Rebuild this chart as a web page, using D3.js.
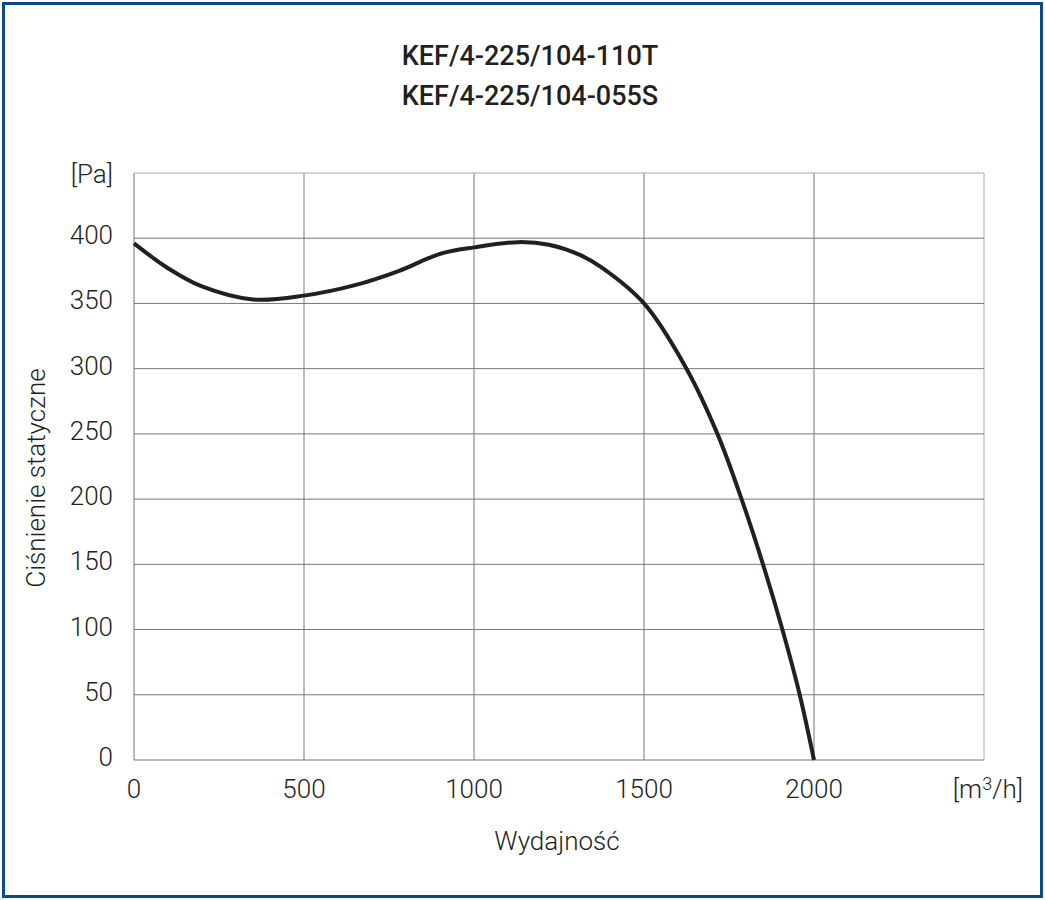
<!DOCTYPE html>
<html>
<head>
<meta charset="utf-8">
<script src="https://cdn.jsdelivr.net/npm/d3@7"></script>
<style>
  body { margin: 0; background: #fff; }
  text { font-family: Roboto, "Noto Sans", sans-serif; fill: #231f20; }
</style>
</head>
<body>
<div id="chart-area"></div>
<script>
// Fan curve
var flow = [0, 100, 200, 350, 500, 650, 780, 900, 1000, 1130, 1220, 1313, 1373, 1500, 1625, 1716, 1787, 1850, 1907, 1958, 2000];
var pressure = [396, 377, 363, 353, 356, 364, 375, 388, 393, 397, 395, 387, 378, 350, 300, 250, 200, 150, 100, 50, 0];

var xTicks = [0, 500, 1000, 1500, 2000];
var xGrid = [0, 500, 1000, 1500, 2000, 2500];
var yTicks = [0, 50, 100, 150, 200, 250, 300, 350, 400];
var yGrid = [0, 50, 100, 150, 200, 250, 300, 350, 400, 450];
var titles = ["KEF/4-225/104-110T", "KEF/4-225/104-055S"];

var W = 1045, H = 900;
var svg = d3.select("#chart-area")
    .append("svg")
        .attr("width", W)
        .attr("height", H);

// outer frame
svg.append("rect")
    .attr("x", 3.5)
    .attr("y", 3.5)
    .attr("width", W - 7)
    .attr("height", H - 7)
    .attr("fill", "none")
    .attr("stroke", "#0b4a86")
    .attr("stroke-width", 3);

// Scales
var x = d3.scaleLinear()
    .domain([0, 2500])
    .range([134, 984]);
var y = d3.scaleLinear()
    .domain([0, 450])
    .range([760, 173]);

// Grid
svg.append("g").selectAll("line")
    .data(xGrid)
    .enter().append("line")
        .attr("x1", function(d){ return x(d); })
        .attr("x2", function(d){ return x(d); })
        .attr("y1", y(0))
        .attr("y2", y(450))
        .attr("stroke", function(d){ return d == 2500 ? "#aaa" : "#777"; })
        .attr("stroke-width", 1);
svg.append("g").selectAll("line")
    .data(yGrid)
    .enter().append("line")
        .attr("x1", x(0))
        .attr("x2", x(2500))
        .attr("y1", function(d){ return y(d); })
        .attr("y2", function(d){ return y(d); })
        .attr("stroke", function(d){ return d == 450 ? "#aaa" : "#777"; })
        .attr("stroke-width", 1);

// Tick labels
svg.append("g").selectAll("text")
    .data(xTicks)
    .enter().append("text")
        .attr("x", function(d){ return x(d); })
        .attr("y", 798)
        .attr("text-anchor", "middle")
        .attr("font-size", "26px")
        .attr("font-weight", 300)
        .text(function(d){ return d; });
svg.append("g").selectAll("text")
    .data(yTicks)
    .enter().append("text")
        .attr("x", 113)
        .attr("y", function(d){ return y(d) + 6; })
        .attr("text-anchor", "end")
        .attr("font-size", "26px")
        .attr("font-weight", 300)
        .text(function(d){ return d; });

// Units
svg.append("text")
    .attr("x", 113)
    .attr("y", 183)
    .attr("text-anchor", "end")
    .attr("font-size", "26px")
    .attr("font-weight", 300)
    .text("[Pa]");
var unitX = svg.append("text")
    .attr("x", 1023)
    .attr("y", 798)
    .attr("text-anchor", "end")
    .attr("font-size", "26px")
    .attr("font-weight", 300);
unitX.append("tspan").text("[m");
unitX.append("tspan").attr("dy", -8).attr("font-size", "18px").text("3");
unitX.append("tspan").attr("dy", 8).text("/h]");

// Axis titles
svg.append("text")
    .attr("transform", "translate(45,478) rotate(-90)")
    .attr("text-anchor", "middle")
    .attr("font-size", "26px")
    .attr("font-weight", 300)
    .text("Ciśnienie statyczne");
svg.append("text")
    .attr("x", 557)
    .attr("y", 850)
    .attr("text-anchor", "middle")
    .attr("font-size", "26px")
    .attr("font-weight", 300)
    .text("Wydajność");

// Title
titles.forEach(function(t, i){
    svg.append("text")
        .attr("x", 530)
        .attr("y", 65 + i * 40)
        .attr("text-anchor", "middle")
        .attr("font-size", "27px")
        .attr("font-weight", 500)
        .text(t);
});

// Curve
var line = d3.line()
    .x(function(d, i){ return x(flow[i]); })
    .y(function(d){ return y(d); })
    .curve(d3.curveCatmullRom.alpha(0.5));

svg.append("path")
    .datum(pressure)
    .attr("d", line)
    .attr("fill", "none")
    .attr("stroke", "#231f20")
    .attr("stroke-width", 4);
</script>
</body>
</html>
